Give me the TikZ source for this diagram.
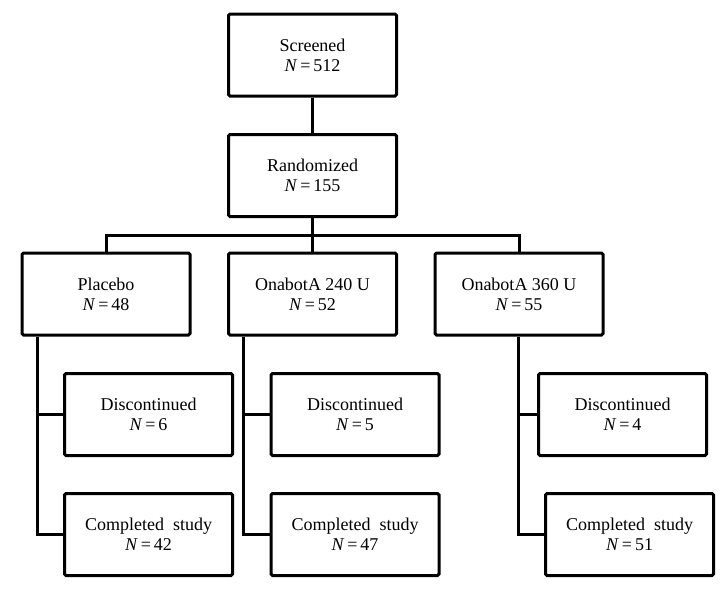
\documentclass[tikz,border=0pt]{standalone}
\usepackage{fontspec}
\setmainfont{Liberation Serif}
\begin{document}
\begin{tikzpicture}[x=1pt,y=-1pt,
  box/.style={draw,line width=3pt,rounded corners=1.5pt,minimum width=168pt,minimum height=82pt,inner sep=0pt,align=center,font=\fontsize{18}{20}\selectfont},
  conn/.style={line width=3pt}]
\useasboundingbox (0,0) rectangle (723,595);
\node[box] (scr) at (312.5,55) {Screened\\\textit{N}\,=\,512};
\node[box] (rnd) at (312.5,175.5) {Randomized\\\textit{N}\,=\,155};
\node[box] (pla) at (106,294) {Placebo\\\textit{N}\,=\,48};
\node[box] (o240) at (312.5,294) {OnabotA 240 U\\\textit{N}\,=\,52};
\node[box] (o360) at (519,294) {OnabotA 360 U\\\textit{N}\,=\,55};
\node[box] (d1) at (148.5,414.5) {Discontinued\\\textit{N}\,=\,6};
\node[box] (c1) at (148.5,534.5) {Completed\ \ study\\\textit{N}\,=\,42};
\node[box] (d2) at (355,414.5) {Discontinued\\\textit{N}\,=\,5};
\node[box] (c2) at (355,534.5) {Completed\ \ study\\\textit{N}\,=\,47};
\node[box] (d3) at (622.5,414.5) {Discontinued\\\textit{N}\,=\,4};
\node[box] (c3) at (629.6,534.5) {Completed\ \ study\\\textit{N}\,=\,51};
\coordinate (bar) at (312.5,235);
\coordinate (l1) at (37,0);
\coordinate (l2) at (243.4,0);
\coordinate (l3) at (518,0);
\draw[conn] (scr) -- (rnd);
\draw[conn] (rnd.south) -- (bar);
\draw[conn] (pla.north) -- (pla.north |- bar) -- (o360.north |- bar) -- (o360.north);
\draw[conn] (bar) -- (o240.north);
\draw[conn] (l1 |- pla.south) -- (l1 |- c1.west) -- (c1.west);
\draw[conn] (l1 |- d1.west) -- (d1.west);
\draw[conn] (l2 |- o240.south) -- (l2 |- c2.west) -- (c2.west);
\draw[conn] (l2 |- d2.west) -- (d2.west);
\draw[conn] (l3 |- o360.south) -- (l3 |- c3.west) -- (c3.west);
\draw[conn] (l3 |- d3.west) -- (d3.west);
\end{tikzpicture}
\end{document}
